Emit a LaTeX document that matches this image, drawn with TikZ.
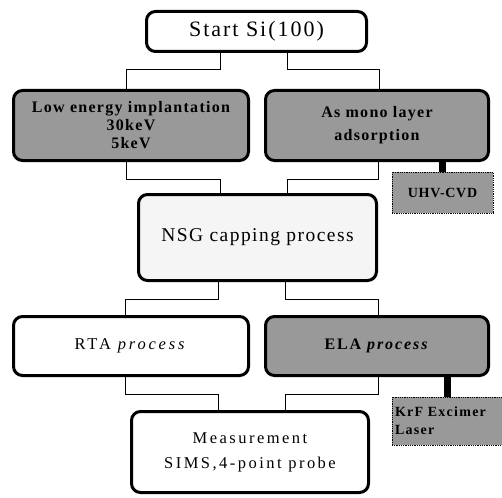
\documentclass[tikz,border=0pt]{standalone}
\usepackage{fontspec}
\setmainfont{Liberation Serif}

\begin{document}
\begin{tikzpicture}[x=1pt,y=-1pt,
  stepbox/.style={draw=black, line width=3pt, rounded corners=9pt, inner sep=0pt, align=center},
  greybox/.style={stepbox, fill=black!40},
  toolbox/.style={draw=black, densely dotted, line width=0.8pt, fill=black!40, inner sep=0pt},
  link/.style={line width=1pt},
  heavylink/.style={line width=7pt}]
\useasboundingbox (0,0) rectangle (502,497);
\node[stepbox, fill=white, minimum width=220pt, minimum height=40pt,
  font=\fontsize{22}{26}\selectfont\addfontfeature{LetterSpace=9}] (start) at (256.5,31.5) {Start Si(100)};
\node[greybox, minimum width=235pt, minimum height=70pt,
  font=\fontsize{16}{18}\selectfont\bfseries\addfontfeature{LetterSpace=8}] (implant) at (131,125.5) {Low energy implantation\\30keV\\5keV};
\node[greybox, minimum width=223pt, minimum height=70pt,
  font=\fontsize{16}{23}\selectfont\bfseries\addfontfeature{LetterSpace=8}] (mono) at (377,125.5) {As mono layer\\adsorption};
\node[toolbox, minimum width=101pt, minimum height=41pt,
  font=\fontsize{14}{16}\selectfont\bfseries\addfontfeature{LetterSpace=5}] (uhv) at (442.5,192.5) {UHV-CVD};
\node[stepbox, fill=black!4, minimum width=238pt, minimum height=86pt,
  font=\fontsize{19.5}{22}\selectfont\addfontfeature{LetterSpace=7.5}] (nsg) at (257.5,237.5) {NSG capping process};
\node[stepbox, fill=white, minimum width=235pt, minimum height=59pt,
  font=\fontsize{16.5}{20}\selectfont\addfontfeature{LetterSpace=17}] (rta) at (131,346) {RTA \textit{process}};
\node[greybox, minimum width=223pt, minimum height=59pt,
  font=\fontsize{16}{20}\selectfont\bfseries\addfontfeature{LetterSpace=12}] (ela) at (377,346) {ELA \textit{process}};
\node[toolbox, minimum width=110pt, minimum height=48pt, align=left, text width=104pt,
  font=\fontsize{14}{18}\selectfont\bfseries\addfontfeature{LetterSpace=9}] (krf) at (447,421) {KrF Excimer\\Laser};
\node[stepbox, fill=white, minimum width=237pt, minimum height=81pt,
  font=\fontsize{16.5}{25}\selectfont\addfontfeature{LetterSpace=15}] (meas) at (250,452) {Measurement\\SIMS,4-point probe};
% branch and merge lines
\draw[link] ([xshift=-36pt]start.south) -- ++(0,17) -| ([xshift=-5pt]implant.north);
\draw[link] ([xshift=31pt]start.south) -- ++(0,17) -| ([xshift=2pt]mono.north);
\draw[link] ([xshift=-5pt]implant.south) -- ++(0,17) -| ([xshift=-37pt]nsg.north);
\draw[link] ([xshift=1pt]mono.south) -- ++(0,17) -| ([xshift=30pt]nsg.north);
\draw[link] ([xshift=-39pt]nsg.south) -- ++(0,17) -| ([xshift=-6pt]rta.north);
\draw[link] ([xshift=28pt]nsg.south) -- ++(0,17) -| ([xshift=1pt]ela.north);
\draw[link] ([xshift=-6pt]rta.south) -- ++(0,17) -| ([xshift=-32pt]meas.north);
\draw[link] ([xshift=1pt]ela.south) -- ++(0,17) -| ([xshift=35pt]meas.north);
% tools
\draw[heavylink] (uhv.north) -- (uhv.north |- mono.south);
\draw[heavylink] (krf.north) -- (krf.north |- ela.south);
\end{tikzpicture}
\end{document}
